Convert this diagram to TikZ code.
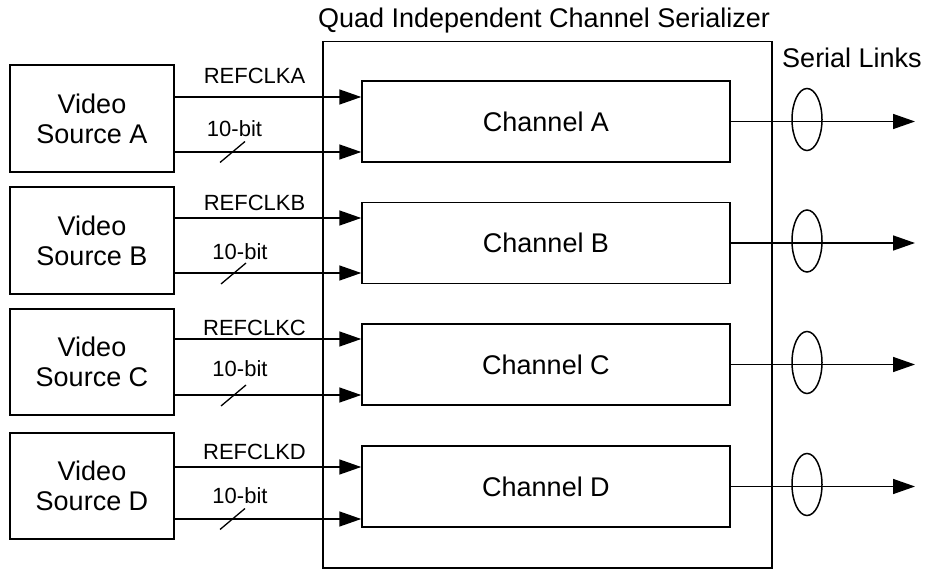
\documentclass[tikz,border=0pt]{standalone}
\usepackage{fontspec}
\setmainfont{Liberation Sans}
\usetikzlibrary{arrows.meta,shapes.geometric}
\begin{document}
\begin{tikzpicture}[x=1pt,y=-1pt,
  line width=1.5pt,
  bigtxt/.style={font=\fontsize{27}{30}\selectfont},
  smalltxt/.style={font=\fontsize{22}{24}\selectfont},
  srcbox/.style={draw,rectangle,inner sep=0pt,minimum width=164pt,align=center,bigtxt},
  chbox/.style={draw,rectangle,inner sep=0pt,minimum width=368pt,minimum height=81pt,bigtxt},
  linkell/.style={draw,ellipse,inner sep=0pt,minimum width=30pt,minimum height=62pt},
  arr/.style={-{Triangle[length=22pt,width=15pt]}}
]
\useasboundingbox (0,0) rectangle (926,569);
% outer serializer box
\node[draw,rectangle,inner sep=0pt,minimum width=449pt,minimum height=526pt,anchor=north west] (ser) at (322,41) {};
\node[bigtxt,anchor=base] (title) at (544,28) {Quad Independent Channel Serializer};
\node[bigtxt,anchor=base] (links) at (852,68) {Serial Links};
% rows: letter, source center y, source height, channel center y, clk y, data y,
% clk label baseline, 10-bit label x, 10-bit baseline, slash x, slash y
\foreach \L/\sy/\sh/\cy/\ky/\dy/\kb/\tx/\tb/\slx/\sly in {
  A/118.5/107/121.5/97/152/84/234.5/137/232.5/152,
  B/240.5/107/243/218/273/211/240/260/233.5/273.5,
  C/362/106/364.5/339/395/335/240/376/233.5/395.5,
  D/486/106/486.5/467/519/459/240/503/232.5/519}{
  \node[srcbox,minimum height=\sh pt] (v\L) at (92,\sy) {Video\\Source \L};
  \node[chbox] (ch\L) at (546,\cy) {Channel \L};
  \coordinate (k\L) at (0,\ky);
  \coordinate (d\L) at (0,\dy);
  \draw[arr] (v\L.east |- k\L) -- (ch\L.west |- k\L);
  \draw[arr] (v\L.east |- d\L) -- (ch\L.west |- d\L);
  \node[smalltxt,anchor=base] (kl\L) at (254.5,\kb) {REFCLK\L};
  \node[smalltxt,anchor=base] (tl\L) at (\tx,\tb) {10-bit};
  \coordinate (s1\L) at (\slx-12.5,\sly+10.5);
  \coordinate (s2\L) at (\slx+12.5,\sly-10.5);
  \draw[line width=1.3pt] (s1\L) -- (s2\L);
  \coordinate (o\L) at (915,\cy);
  \draw[arr] (ch\L.east) -- (o\L);
  \node[linkell] (e\L) at (807,\cy-2) {};
}
\end{tikzpicture}
\end{document}
